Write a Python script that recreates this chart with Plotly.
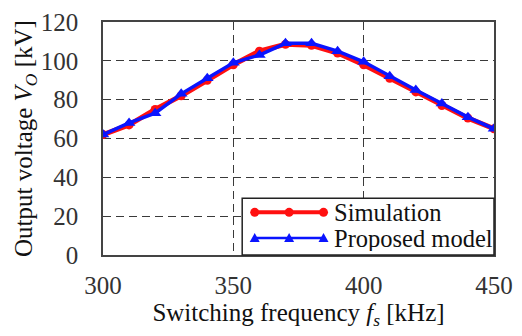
import plotly.graph_objects as go

freq = [300, 310, 320, 330, 340, 350, 360, 370, 380, 390, 400, 410, 420, 430, 440, 450]
simulation = [62, 67, 75, 82, 90, 98, 105, 108.5, 108, 104, 98, 91, 84, 77, 70.5, 65]
proposed = [62, 68, 73, 83, 91, 99, 103, 109, 109, 105, 99.5, 92, 85, 78, 71, 65]

x_ticks = [300, 350, 400, 450]
y_ticks = [0, 20, 40, 60, 80, 100, 120]

FONT = "Liberation Serif, Times New Roman, serif"
RED = "#ff1010"
BLUE = "#0a14ff"

series = [
    dict(name="Simulation", y=simulation, color=RED, width=5, symbol="circle", size=9),
    dict(name="Proposed model", y=proposed, color=BLUE, width=3.5, symbol="triangle-up", size=11),
]

fig = go.Figure()
for s in series:
    fig.add_trace(go.Scatter(
        x=freq, y=s["y"], name=s["name"], mode="lines+markers",
        line=dict(color=s["color"], width=s["width"]),
        marker=dict(symbol=s["symbol"], size=s["size"], color=s["color"]),
        showlegend=False,
    ))

axis_common = dict(
    showline=True, linecolor="#444444", linewidth=1.5, mirror=True,
    showgrid=True, gridcolor="#3a3a3a", griddash="8px,5px", gridwidth=1.3,
    zeroline=False, ticks="", ticklabeloverflow="allow",
    tickfont=dict(family=FONT, size=25, color="#333"),
)

fig.update_xaxes(range=[300, 450], tickvals=x_ticks, ticklabelstandoff=7,
                 title=dict(text="Switching frequency <i>f<sub>s</sub></i> [kHz]",
                            font=dict(family=FONT, size=25, color="#111"), standoff=2),
                 **axis_common)
fig.update_yaxes(range=[0, 120], tickvals=y_ticks, ticklabelstandoff=18,
                 title=dict(text="Output voltage <i>V<sub>O</sub></i> [kV]",
                            font=dict(family=FONT, size=25, color="#111"), standoff=1),
                 **axis_common)

# Legend box with line-and-marker keys (paper coordinates of the plot area)
box = dict(x0=0.356, x1=1.0, y0=0.0, y1=0.244)
rows = [0.183, 0.073]
key_x = [0.388, 0.476, 0.564]
text_x = 0.589

shapes = [dict(type="rect", xref="paper", yref="paper", **box,
               fillcolor="white", line=dict(color="#222", width=1.5), layer="above")]
annotations = []
for s, ry in zip(series, rows):
    shapes.append(dict(type="line", xref="paper", yref="paper",
                       x0=key_x[0], x1=key_x[-1], y0=ry, y1=ry,
                       line=dict(color=s["color"], width=s["width"] - 1), layer="above"))
    for kx in key_x:
        if s["symbol"] == "circle":
            shapes.append(dict(type="circle", xref="paper", yref="paper",
                               xsizemode="pixel", ysizemode="pixel",
                               xanchor=kx, yanchor=ry, x0=-4.5, x1=4.5, y0=-4.5, y1=4.5,
                               fillcolor=s["color"], line=dict(width=0), layer="above"))
        else:
            shapes.append(dict(type="path", xref="paper", yref="paper",
                               xsizemode="pixel", ysizemode="pixel",
                               xanchor=kx, yanchor=ry,
                               path="M -5 -4 L 5 -4 L 0 5 Z",
                               fillcolor=s["color"], line=dict(width=0), layer="above"))
    annotations.append(dict(xref="paper", yref="paper", x=text_x, y=ry,
                            xanchor="left", yanchor="middle", showarrow=False,
                            height=26, borderpad=0,
                            text=s["name"], font=dict(family=FONT, size=24.5, color="#111")))

fig.update_layout(
    width=522, height=336,
    margin=dict(l=103, r=20, t=9, b=81),
    paper_bgcolor="white", plot_bgcolor="white",
    font=dict(family=FONT, color="#111"),
    showlegend=False,
    shapes=shapes,
    annotations=annotations,
)

fig.write_html("out.html")
